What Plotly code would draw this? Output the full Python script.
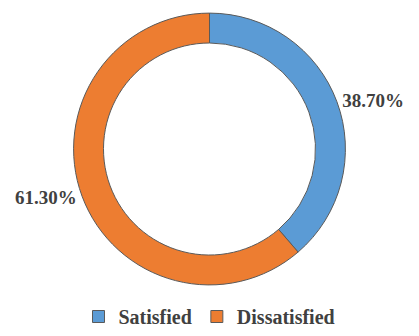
import plotly.graph_objects as go

labels = ["Satisfied", "Dissatisfied"]
values = [38.70, 61.30]
colors = ["#5B9BD5", "#ED7D31"]

fig = go.Figure(go.Pie(
    labels=labels,
    values=values,
    hole=0.78,
    sort=False,
    direction="clockwise",
    rotation=0,
    marker=dict(colors=colors, line=dict(color="#5a5a5a", width=1)),
    textposition="outside",
    texttemplate="%{percent:.2%}",
    textfont=dict(family="Liberation Serif", size=19, color="#404040", weight="bold"),
    domain=dict(x=[0.0, 1.0], y=[0.152, 0.961]),
    showlegend=True,
))

fig.update_layout(
    width=419, height=336,
    margin=dict(l=0, r=0, t=0, b=0),
    paper_bgcolor="white",
    plot_bgcolor="white",
    legend=dict(orientation="h", x=0.5, xanchor="center", y=0.0, yanchor="bottom",
                font=dict(family="Liberation Serif", size=20, color="#404040", weight="bold"),
                itemwidth=30, traceorder="normal"),
)

fig.write_html("out.html")
